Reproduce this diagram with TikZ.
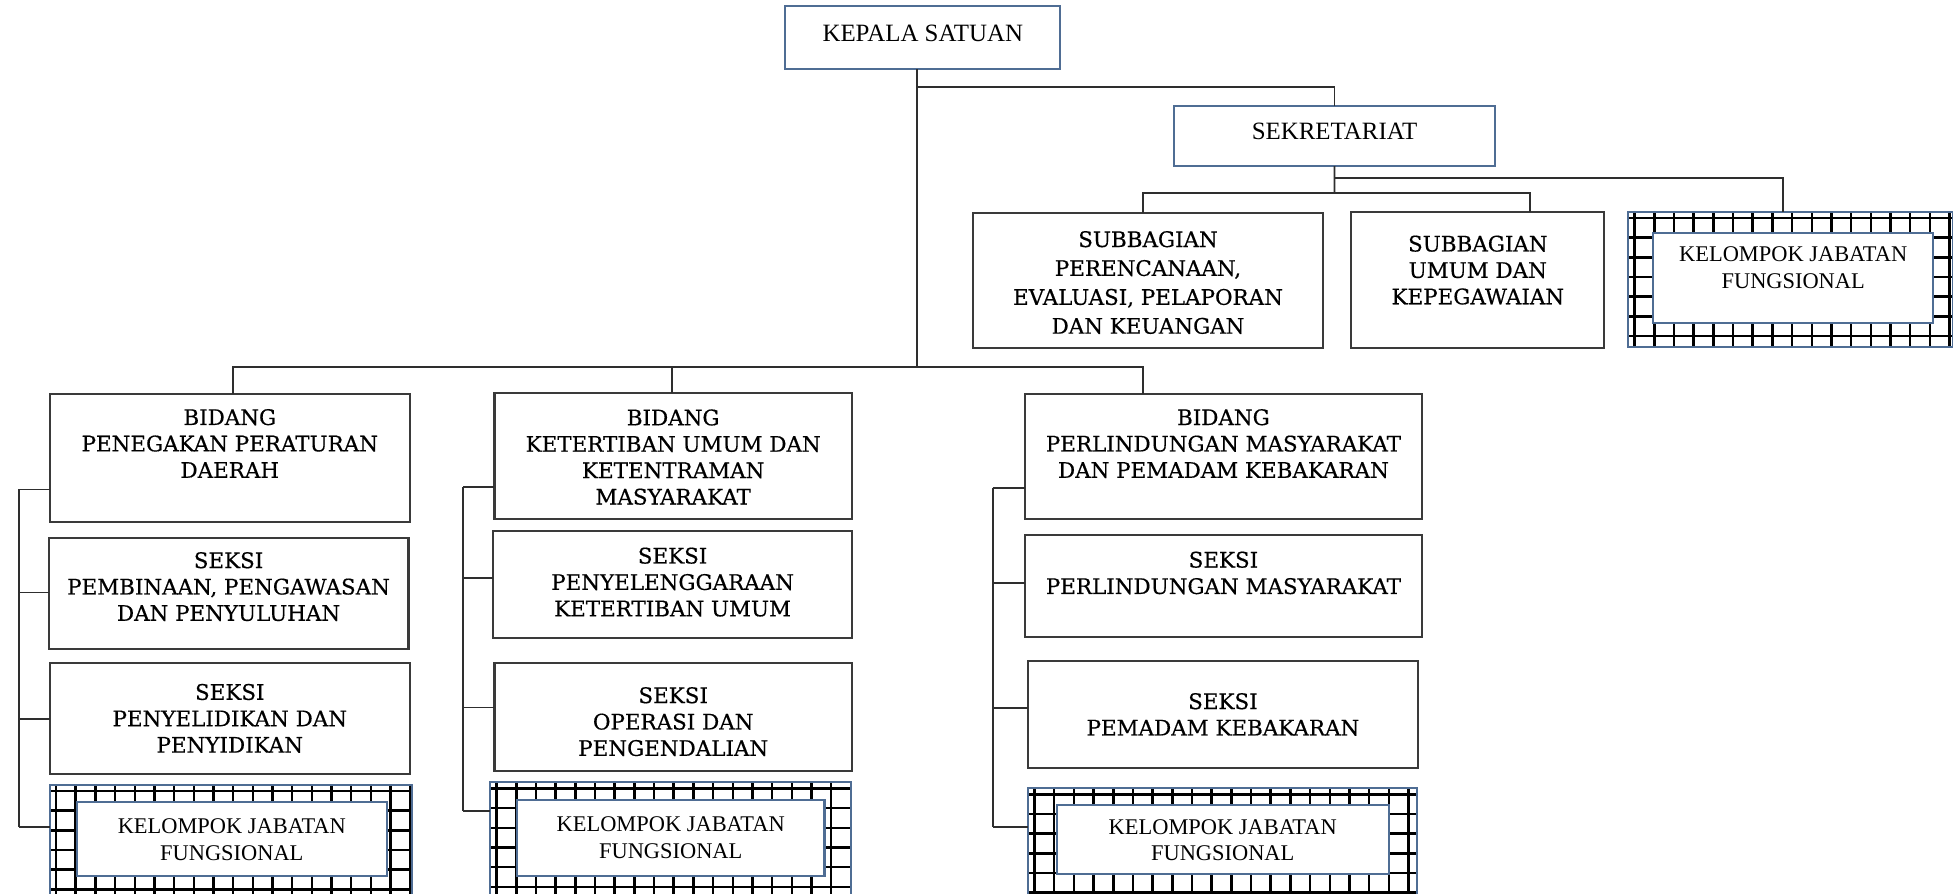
\documentclass[tikz,border=0pt]{standalone}
\usepackage{fontspec}
\setmainfont{Liberation Serif}
\newfontfamily\bkfont[FakeBold=0.5]{DejaVu Serif}
\usetikzlibrary{calc}
\definecolor{bluegray}{HTML}{4F6D94}
\definecolor{darkline}{HTML}{2E2E2E}
\definecolor{boxline}{HTML}{3A3A3A}

\tikzset{
  conn/.style={draw=darkline, line width=0.75pt},
  plainbox/.style={draw=boxline, line width=0.85pt, rectangle, inner sep=0pt, outer sep=0pt},
  bluebox/.style={draw=bluegray, line width=0.85pt, rectangle, inner sep=0pt, outer sep=0pt},
  bktxt/.style={font=\bkfont\fontsize{8.6}{10.6}\selectfont, align=center, inner sep=0pt, text=black},
  bktxtw/.style={font=\bkfont\fontsize{8.6}{11.6}\selectfont, align=center, inner sep=0pt, text=black},
  tmtxt/.style={font=\fontsize{10}{12}\selectfont, align=center, inner sep=0pt},
  kjtxt/.style={font=\fontsize{9}{10.6}\selectfont, align=center, inner sep=0pt},
  gridline/.style={draw=black, line width=1pt},
}

\newcommand{\orgbox}[9]{%
  \pgfmathsetmacro{\bw}{(#5-#3)*0.5}%
  \pgfmathsetmacro{\bh}{(#6-#4)*0.5}%
  \node[#2, minimum width=\bw pt, minimum height=\bh pt] (#1) at ({(#3+#5)/2},{(#4+#6)/2}) {};%
  \node[#7] (#1-t) at ($(#1.center)+(0,#8)$) {#9};%
}

\newcommand{\kjfbox}[9]{%
  \begin{scope}
    \clip (#2,#3) rectangle (#4,#5);
    \foreach \k in {0,...,21}{\draw[gridline] ({#2+5+\k*15.8},#3) -- ({#2+5+\k*15.8},#5);}
    \foreach \k in {0,...,7}{\draw[gridline] (#2,{#3+5+\k*15.8}) -- (#4,{#3+5+\k*15.8});}
  \end{scope}
  \pgfmathsetmacro{\bw}{(#4-#2)*0.5}%
  \pgfmathsetmacro{\bh}{(#5-#3)*0.5}%
  \node[bluebox, minimum width=\bw pt, minimum height=\bh pt] (#1-o) at ({(#2+#4)/2},{(#3+#5)/2}) {};
  \pgfmathsetmacro{\bw}{(#8-#6)*0.5}%
  \pgfmathsetmacro{\bh}{(#9-#7)*0.5}%
  \node[bluebox, fill=white, minimum width=\bw pt, minimum height=\bh pt] (#1) at ({(#6+#8)/2},{(#7+#9)/2}) {};
}

\begin{document}
\begin{tikzpicture}[x=0.5pt,y=-0.5pt]
\fill[white] (0,0) rectangle (1568,717);
\useasboundingbox (0,0) rectangle (1568,717);

% top
\orgbox{kepala}{bluebox}{630.4}{4.8}{851.3}{55.4}{tmtxt}{-3.3}{KEPALA SATUAN}
\orgbox{sekre}{bluebox}{942.4}{84.8}{1200.5}{133.3}{tmtxt}{-3.3}{SEKRETARIAT}
\orgbox{sub1}{plainbox}{781}{171}{1062.4}{279.7}{bktxtw}{1.5}{SUBBAGIAN\\PERENCANAAN,\\EVALUASI, PELAPORAN\\DAN KEUANGAN}
\orgbox{sub2}{plainbox}{1085}{170}{1288}{279.7}{bktxt}{-8}{SUBBAGIAN\\UMUM DAN\\KEPEGAWAIAN}
\kjfbox{kjf0}{1307.4}{170}{1568}{278.4}{1327.4}{186.8}{1552}{259.6}
\node[kjtxt] (kjf0-t) at ($(kjf0.center)+(0,-8.4)$) {KELOMPOK JABATAN\\FUNGSIONAL};

% group 1
\orgbox{bid1}{plainbox}{40}{316}{329}{419}{bktxt}{-11.5}{BIDANG\\PENEGAKAN PERATURAN\\DAERAH}
\orgbox{sek1a}{plainbox}{39}{431.6}{328}{521}{bktxt}{-5.3}{SEKSI\\PEMBINAAN, PENGAWASAN\\DAN PENYULUHAN}
\orgbox{sek1b}{plainbox}{40}{532}{329}{621.6}{bktxt}{0}{SEKSI\\PENYELIDIKAN DAN\\PENYIDIKAN}
\kjfbox{kjf1}{40}{630}{331}{719}{61.6}{644}{310.6}{703}
\node[kjtxt] (kjf1-t) at ($(kjf1.center)+(0,0.5)$) {KELOMPOK JABATAN\\FUNGSIONAL};

% group 2
\orgbox{bid2}{plainbox}{397}{315.8}{684}{416.8}{bktxt}{0.7}{BIDANG\\KETERTIBAN UMUM DAN\\KETENTRAMAN\\MASYARAKAT}
\orgbox{sek2a}{plainbox}{396}{426}{684}{512.5}{bktxt}{-1.9}{SEKSI\\PENYELENGGARAAN\\KETERTIBAN UMUM}
\orgbox{sek2b}{plainbox}{397}{532}{684}{618.8}{bktxt}{4}{SEKSI\\OPERASI DAN\\PENGENDALIAN}
\kjfbox{kjf2}{393.7}{628}{683}{719}{415}{642}{662}{703}
\node[kjtxt] (kjf2-t) at ($(kjf2.center)+(0,0)$) {KELOMPOK JABATAN\\FUNGSIONAL};

% group 3
\orgbox{bid3}{plainbox}{823}{316}{1141.5}{417}{bktxt}{-10.3}{BIDANG\\PERLINDUNGAN MASYARAKAT\\DAN PEMADAM KEBAKARAN}
\orgbox{sek3a}{plainbox}{823}{429.6}{1141.5}{511.6}{bktxt}{-10.6}{SEKSI\\PERLINDUNGAN MASYARAKAT}
\orgbox{sek3b}{plainbox}{825}{530.6}{1138.7}{616.6}{bktxt}{0}{SEKSI\\PEMADAM KEBAKARAN}
\kjfbox{kjf3}{825.6}{632.7}{1137.7}{719}{848.4}{646.3}{1115}{701.7}
\node[kjtxt] (kjf3-t) at ($(kjf3.center)+(0,0.4)$) {KELOMPOK JABATAN\\FUNGSIONAL};

% connectors top
\coordinate (jk) at (736.5,69.6);
\coordinate (jb) at (736.5,294.4);
\draw[conn] (jk |- kepala.south) -- (jb);
\draw[conn] (jk) -| (sekre.north);
\coordinate (js1) at (1071.4,142.6);
\coordinate (js2) at (1071.4,154.7);
\draw[conn] (sekre.south) -- (js2);
\coordinate (cK0) at (1431.5,142.6);
\draw[conn] (js1) -- (cK0) -- (cK0 |- kjf0-o.north);
\coordinate (cS1) at (917.8,154.7);
\coordinate (cS2) at (1228.6,154.7);
\draw[conn] (cS1 |- sub1.north) -- (cS1) -- (cS2) -- (cS2 |- sub2.north);
\coordinate (cB1) at (187.2,294.4);
\coordinate (cB2) at (539.5,294.4);
\coordinate (cB3) at (917.4,294.4);
\draw[conn] (cB1 |- bid1.north) -- (cB1) -- (cB3) -- (cB3 |- bid3.north);
\draw[conn] (cB2) -- (cB2 |- bid2.north);

% rails
\coordinate (r1a) at (15,393);
\coordinate (r1b) at (15,475.7);
\coordinate (r1c) at (15,577);
\coordinate (r1d) at (15,664);
\draw[conn] (r1a) -- (r1d);
\draw[conn] (r1a) -- (r1a -| bid1.west);
\draw[conn] (r1b) -- (r1b -| sek1a.west);
\draw[conn] (r1c) -- (r1c -| sek1b.west);
\draw[conn] (r1d) -- (r1d -| kjf1-o.west);

\coordinate (r2a) at (372,391);
\coordinate (r2b) at (372,464);
\coordinate (r2c) at (372,568);
\coordinate (r2d) at (372,651);
\draw[conn] (r2a) -- (r2d);
\draw[conn] (r2a) -- (r2a -| bid2.west);
\draw[conn] (r2b) -- (r2b -| sek2a.west);
\draw[conn] (r2c) -- (r2c -| sek2b.west);
\draw[conn] (r2d) -- (r2d -| kjf2-o.west);

\coordinate (r3a) at (797,392);
\coordinate (r3b) at (797,468);
\coordinate (r3c) at (797,568.5);
\coordinate (r3d) at (797,664);
\draw[conn] (r3a) -- (r3d);
\draw[conn] (r3a) -- (r3a -| bid3.west);
\draw[conn] (r3b) -- (r3b -| sek3a.west);
\draw[conn] (r3c) -- (r3c -| sek3b.west);
\draw[conn] (r3d) -- (r3d -| kjf3-o.west);
\end{tikzpicture}
\end{document}
